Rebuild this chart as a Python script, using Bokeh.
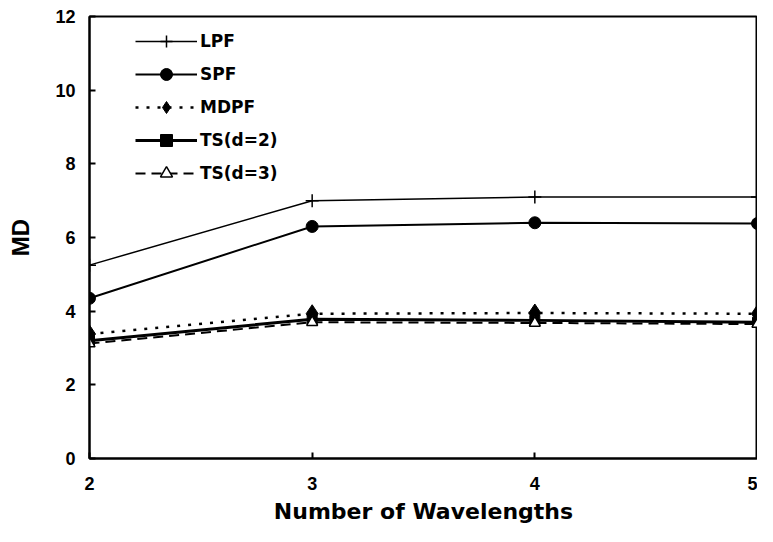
from bokeh.plotting import figure
from bokeh.embed import file_html
from bokeh.resources import INLINE
from bokeh.models import Range1d, FixedTicker

wavelengths = [2, 3, 4, 5]
lpf = [5.25, 7.0, 7.1, 7.1]
spf = [4.35, 6.3, 6.4, 6.38]
mdpf = [3.38, 3.93, 3.95, 3.93]
ts2 = [3.2, 3.78, 3.75, 3.7]
ts3 = [3.12, 3.7, 3.68, 3.65]
y_ticks = [0, 2, 4, 6, 8, 10, 12]

p = figure(width=757, height=526, output_backend="svg", toolbar_location=None,
           x_range=Range1d(2, 5), y_range=Range1d(0, 12),
           min_border_left=89, min_border_right=0, min_border_top=16, min_border_bottom=68)

p.xgrid.visible = False
p.ygrid.visible = False
p.outline_line_color = "black"
p.outline_line_width = 2
p.background_fill_color = "white"
p.border_fill_color = "white"

# series
p.line(wavelengths, lpf, line_color="black", line_width=1.5, legend_label="LPF")
p.scatter(wavelengths, lpf, marker="cross", size=13, line_color="black", line_width=1.5, legend_label="LPF")

p.line(wavelengths, spf, line_color="black", line_width=2, legend_label="SPF")
p.scatter(wavelengths, spf, marker="circle", size=12, fill_color="black", line_color="black", legend_label="SPF")

p.line(wavelengths, mdpf, line_color="black", line_width=2.5, line_dash="3 8", legend_label="MDPF")
p.scatter(wavelengths, mdpf, marker="diamond", size=18, fill_color="black", line_color="black", legend_label="MDPF")

p.line(wavelengths, ts2, line_color="black", line_width=3, legend_label="TS(d=2)")
p.scatter(wavelengths, ts2, marker="square", size=10, fill_color="black", line_color="black", legend_label="TS(d=2)")

p.line(wavelengths, ts3, line_color="black", line_width=2, line_dash="10 6", legend_label="TS(d=3)")
p.scatter(wavelengths, ts3, marker="triangle", size=11, fill_color="white", line_color="black", line_width=1.5, legend_label="TS(d=3)")

# axes
for ax in (p.xaxis[0], p.yaxis[0]):
    ax.axis_line_width = 2
    ax.major_tick_in = 6
    ax.major_tick_out = 0
    ax.major_tick_line_width = 2
    ax.minor_tick_line_color = None
    ax.major_label_text_font = "Liberation Sans"
    ax.major_label_text_font_style = "bold"
    ax.major_label_text_font_size = "18px"
    ax.major_label_text_color = "black"
    ax.axis_label_text_color = "black"
    ax.axis_label_text_font_style = "bold"

p.xaxis.ticker = FixedTicker(ticks=wavelengths)
p.yaxis.ticker = FixedTicker(ticks=y_ticks)
p.xaxis.major_label_standoff = 18
p.yaxis.major_label_standoff = 14

p.xaxis.axis_label = "Number of Wavelengths"
p.xaxis.axis_label_text_font = "DejaVu Sans"
p.xaxis.axis_label_text_font_size = "22px"
p.xaxis.axis_label_standoff = 6

p.yaxis.axis_label = "MD"
p.yaxis.axis_label_text_font = "Liberation Sans"
p.yaxis.axis_label_text_font_size = "24px"
p.yaxis.axis_label_standoff = 18

# legend
lg = p.legend[0]
lg.location = (46, 270)
lg.background_fill_alpha = 0
lg.border_line_alpha = 0
lg.padding = 0
lg.margin = 0
lg.spacing = 3
lg.glyph_width = 62
lg.glyph_height = 30
lg.label_height = 30
lg.label_standoff = 3
lg.label_text_font = "DejaVu Sans"
lg.label_text_font_style = "bold"
lg.label_text_font_size = "17px"
lg.label_text_color = "black"

open("out.html", "w").write(file_html(p, INLINE))
